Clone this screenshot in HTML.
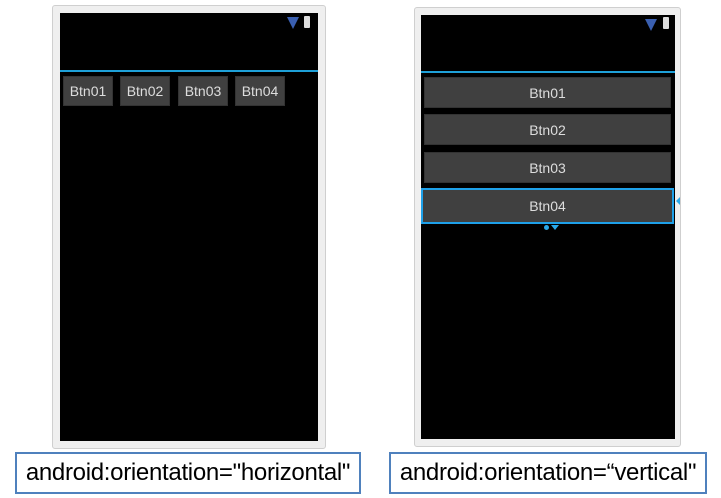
<!DOCTYPE html>
<html><head><style>
body{margin:0;width:721px;height:498px;background:#fff;position:relative;overflow:hidden;font-family:"Liberation Sans",sans-serif}
.a{position:absolute;box-sizing:border-box}
.frame{background:#efefef;border:1px solid #cfcfcf;border-radius:3px}
.scr{background:#000}
.bl{background:#1ea0d8;height:2px}
.btn{background:#404040;color:#ddd;font-size:14px;display:flex;align-items:center;justify-content:center;border:1px solid #333}
.lab{border:2px solid #4f81bd;background:#fff;font-size:24px;display:flex;align-items:center;justify-content:center;color:#000;letter-spacing:-0.3px;white-space:nowrap}
.wifi{width:0;height:0;border-left:6px solid transparent;border-right:6px solid transparent;border-top:12px solid #3a5fb0}
.bat{width:6px;height:12px;background:#ddd;border-radius:1px}
</style></head><body>
<div class="a frame" style="left:52px;top:5px;width:274px;height:444px"></div>
<div class="a scr" style="left:60px;top:13px;width:258px;height:428px"></div>
<div class="a wifi" style="left:287px;top:17px"></div>
<div class="a bat" style="left:304px;top:16px"></div>
<div class="a bl" style="left:60px;top:70px;width:258px"></div>
<div class="a btn" style="left:63px;top:76px;width:50px;height:30px">Btn01</div>
<div class="a btn" style="left:120px;top:76px;width:50px;height:30px">Btn02</div>
<div class="a btn" style="left:178px;top:76px;width:50px;height:30px">Btn03</div>
<div class="a btn" style="left:235px;top:76px;width:50px;height:30px">Btn04</div>

<div class="a frame" style="left:414px;top:7px;width:267px;height:440px"></div>
<div class="a scr" style="left:421px;top:15px;width:254px;height:424px"></div>
<div class="a wifi" style="left:645px;top:19px"></div>
<div class="a bat" style="left:663px;top:17px"></div>
<div class="a bl" style="left:421px;top:71px;width:254px"></div>
<div class="a btn" style="left:424px;top:77px;width:247px;height:31px">Btn01</div>
<div class="a btn" style="left:424px;top:114px;width:247px;height:31px">Btn02</div>
<div class="a btn" style="left:424px;top:152px;width:247px;height:31px">Btn03</div>
<div class="a btn" style="left:421px;top:188px;width:253px;height:36px;border:2px solid #1ea0e8">Btn04</div>
<div class="a" style="left:544px;top:225px;width:5px;height:5px;border-radius:50%;background:#2aa8e8"></div>
<div class="a" style="left:551px;top:225px;width:0;height:0;border-left:4px solid transparent;border-right:4px solid transparent;border-top:5px solid #2aa8e8"></div>
<div class="a" style="left:676px;top:197px;width:0;height:0;border-top:4px solid transparent;border-bottom:4px solid transparent;border-right:4px solid #2aa8e8"></div>

<div class="a lab" style="left:15px;top:452px;width:346px;height:42px">android:orientation="horizontal"</div>
<div class="a lab" style="left:389px;top:452px;width:318px;height:42px">android:orientation=“vertical"</div>
</body></html>
